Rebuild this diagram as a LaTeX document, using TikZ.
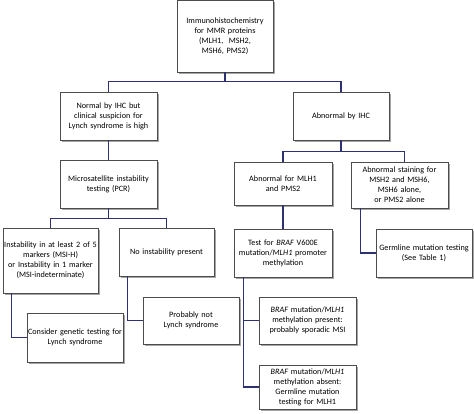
\documentclass[tikz,border=0pt]{standalone}
\usepackage{fontspec}
\setmainfont{Carlito}
\usetikzlibrary{shadows}
\definecolor{linknavy}{HTML}{2E3170}
\tikzset{
  box/.style={draw=black!70, rectangle, fill=white, line width=0.5pt, align=center,
    inner sep=0.5pt, font=\fontsize{8.2}{10}\selectfont,
    drop shadow={shadow xshift=1.5pt, shadow yshift=-1.5pt, fill=black!35, opacity=1}},
  link/.style={draw=linknavy, line width=1.2pt}
}
\begin{document}
\begin{tikzpicture}[x=1pt,y=-1pt]
\useasboundingbox (0,0) rectangle (474,413);
\node[box, minimum width=96pt, minimum height=72pt, text width=94pt] (ihc) at (225,36) {Immunohistochemistry\\for MMR proteins\\(MLH1,\ \ MSH2,\\MSH6, PMS2)};
\node[box, minimum width=97pt, minimum height=48pt, text width=95pt] (normal) at (108.5,116) {Normal by IHC but\\clinical suspicion for\\Lynch syndrome is high};
\node[box, minimum width=96pt, minimum height=48pt, text width=94pt] (abn) at (341,116) {Abnormal by IHC};
\node[box, minimum width=97pt, minimum height=48pt, text width=95pt] (msi) at (108.5,184) {Microsatellite instability\\testing (PCR)};
\node[box, minimum width=95pt, minimum height=65pt, text width=94pt] (instab) at (50.5,260.5) {Instability in at least 2 of 5\\markers (MSI-H)\\or Instability in 1 marker\\(MSI-indeterminate)};
\node[box, minimum width=95pt, minimum height=48pt, text width=93pt] (noinst) at (166.5,252) {No instability present};
\node[box, minimum width=96pt, minimum height=49pt, text width=95pt] (consider) at (75,337.5) {Consider genetic testing for\\Lynch syndrome};
\node[box, minimum width=96pt, minimum height=47pt, text width=94pt] (probnot) at (191,320.5) {Probably not\\Lynch syndrome};
\node[box, minimum width=98pt, minimum height=43pt, text width=96pt] (mlh) at (283,183.5) {Abnormal for MLH1\\and PMS2};
\node[box, minimum width=97pt, minimum height=46pt, text width=95pt] (stain) at (399.5,185) {Abnormal staining for\\MSH2 and MSH6,\\MSH6 alone,\\or PMS2 alone};
\node[box, minimum width=98pt, minimum height=48pt, text width=96pt] (braf) at (283,253) {Test for \textit{BRAF} V600E\\mutation/\textit{MLH1} promoter\\methylation};
\node[box, minimum width=96pt, minimum height=48pt, text width=95pt] (germ) at (424,253) {Germline mutation testing\\(See Table 1)};
\node[box, minimum width=97pt, minimum height=47pt, text width=95pt] (present) at (307.5,320.5) {\textit{BRAF} mutation/\textit{MLH1}\\methylation present:\\probably sporadic MSI};
\node[box, minimum width=97pt, minimum height=44pt, text width=95pt] (absent) at (307.5,387) {\textit{BRAF} mutation/\textit{MLH1}\\methylation absent:\\Germline mutation\\testing for MLH1};
% branches
\draw[link] (ihc.south) -- ++(0,9) -| (normal.north);
\draw[link] (ihc.south) -- ++(0,9) -| (abn.north);
\draw[link] (normal.south) -- (msi.north);
\draw[link] (msi.south) -- ++(0,10) -| (instab.north);
\draw[link] (msi.south) -- ++(0,10) -| (noinst.north);
\draw[link] (abn.south) -- ++(0,11) -| (mlh.north);
\draw[link] (abn.south) -- ++(0,11) -| ([xshift=5pt]stain.north);
\draw[link] (mlh.south) -- (braf.north);
% side connectors
\draw[link] ([xshift=9pt]instab.south west) |- (consider.west);
\draw[link] ([xshift=9pt]noinst.south west) |- (probnot.west);
\draw[link] ([xshift=10pt]stain.south west) |- (germ.west);
\draw[link] ([xshift=10pt]braf.south west) |- (present.west);
\draw[link] ([xshift=10pt]braf.south west) |- (absent.west);
\end{tikzpicture}
\end{document}
